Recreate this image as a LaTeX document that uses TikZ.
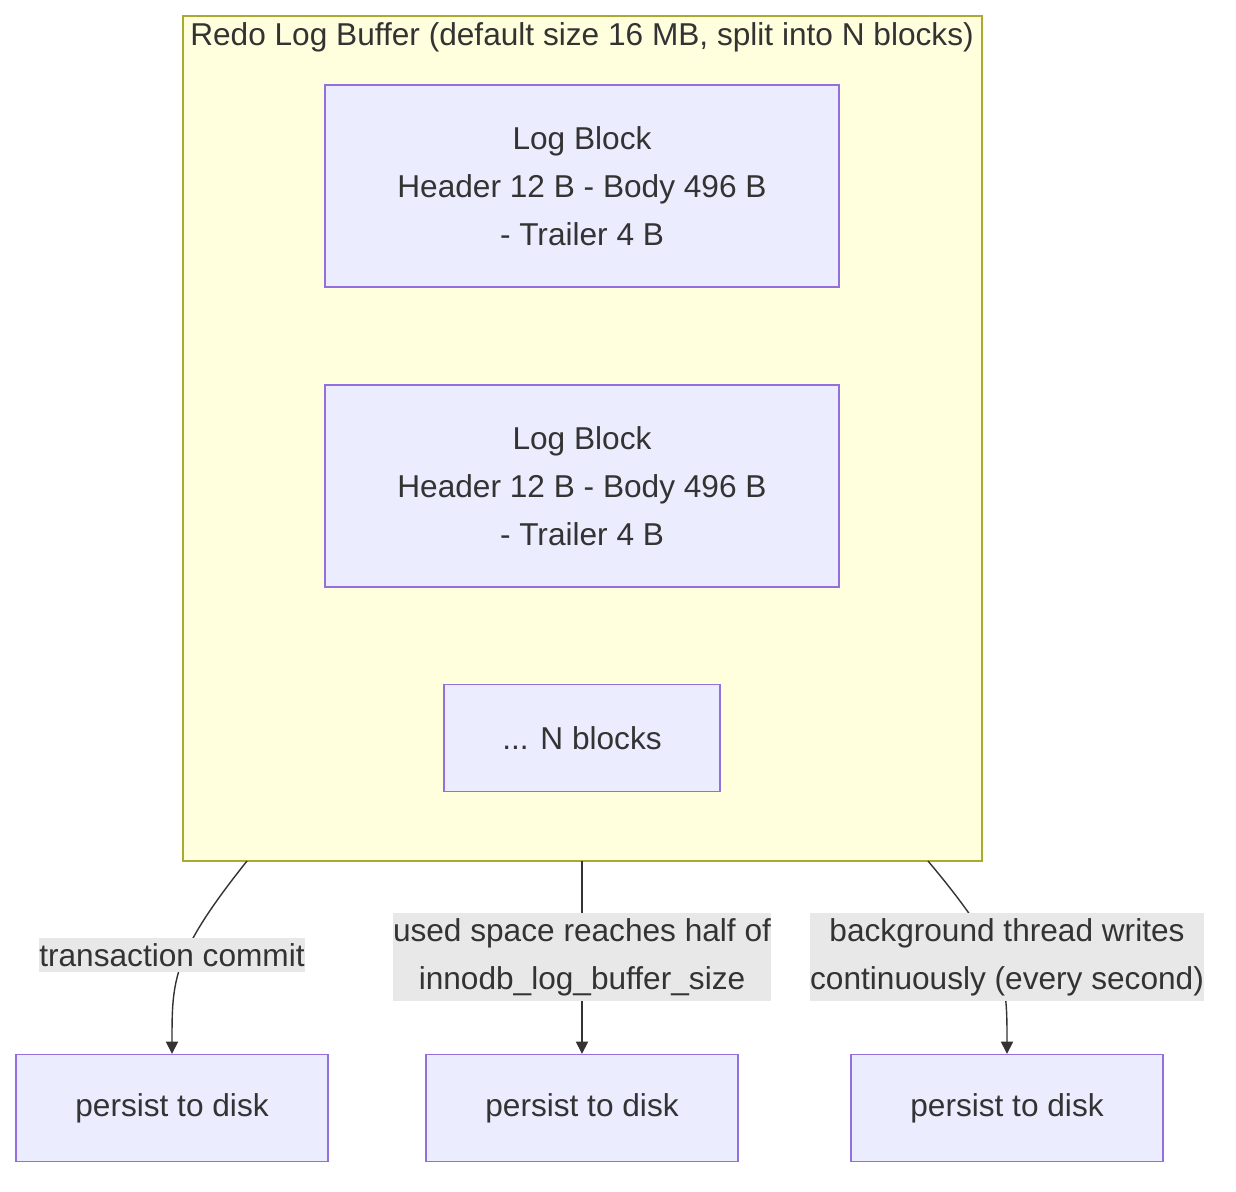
\documentclass[tikz,border=0pt]{standalone}
\usepackage{fontspec}
\setmainfont{Liberation Sans}
\usetikzlibrary{arrows.meta,positioning}
\definecolor{nodefill}{HTML}{ECECFF}
\definecolor{nodeline}{HTML}{9370DB}
\definecolor{groupfill}{HTML}{FFFFDE}
\definecolor{groupline}{HTML}{AAAA33}
\definecolor{txt}{HTML}{333333}
\definecolor{lblfill}{HTML}{E8E8E8}

\begin{document}
\begin{tikzpicture}[x=0.02cm, y=-0.02cm,
    font=\fontsize{18}{27.3}\selectfont, text=txt,
    box/.style={draw=nodeline, fill=nodefill, line width=0.8pt, align=center, inner sep=0pt},
    lbl/.style={fill=lblfill, align=center, inner xsep=0pt, inner ysep=3pt},
    link/.style={-{Triangle[length=7pt,width=7pt]}, draw=txt, line width=0.8pt}
]
\useasboundingbox (0,0) rectangle (1236,1192);

% Redo log buffer group
\draw[groupline, fill=groupfill, line width=0.8pt] (183,16) rectangle (982,861);
\node (title) at (582,37) {Redo Log Buffer (default size 16 MB, split into N blocks)};

% Blocks
\node[box, minimum width=10.28cm, minimum height=4.04cm] (blk1) at (582,186) {Log Block\\Header 12 B - Body 496 B\\- Trailer 4 B};
\node[box, minimum width=10.28cm, minimum height=4.04cm] (blk2) at (582,486) {Log Block\\Header 12 B - Body 496 B\\- Trailer 4 B};
\node[box, minimum width=5.52cm, minimum height=2.14cm] (more) at (582,738) {... N blocks};

% Disk targets
\node[box, minimum width=6.24cm, minimum height=2.14cm] (disk1) at (172,1108) {persist to disk};
\node[box, minimum width=6.24cm, minimum height=2.14cm] (disk2) at (582,1108) {persist to disk};
\node[box, minimum width=6.24cm, minimum height=2.14cm] (disk3) at (1007,1108) {persist to disk};

% Flush triggers
\coordinate (s1) at (247,861);
\coordinate (s2) at (582,861);
\coordinate (s3) at (928,861);
\draw[link] (s1) .. controls (172,955) and (172,980) .. (disk1.north);
\draw[link] (s2) -- (disk2.north);
\draw[link] (s3) .. controls (1007,955) and (1007,980) .. (disk3.north);

\node[lbl] (l1) at (172,955) {transaction commit};
\node[lbl] (l2) at (582,957) {used space reaches half of\\innodb\_log\_buffer\_size};
\node[lbl] (l3) at (1007,957) {background thread writes\\continuously (every second)};

\end{tikzpicture}
\end{document}
